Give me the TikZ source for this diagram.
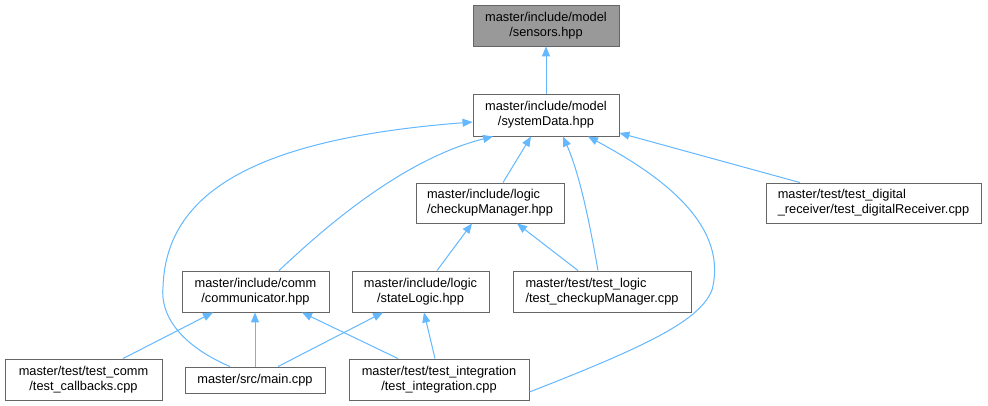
\documentclass[tikz,border=0pt]{standalone}
\usepackage{fontspec}
\setmainfont{Liberation Sans}
\usetikzlibrary{arrows.meta}
\definecolor{edgeblue}{HTML}{63B8FF}
\definecolor{boxgray}{HTML}{666666}
\definecolor{curfill}{HTML}{999999}
\begin{document}
\begin{tikzpicture}[x=1pt,y=-1pt,
  box/.style={draw=boxgray, line width=0.9pt, fill=white, inner sep=0pt, align=center,
    font=\fontsize{12.8}{15}\selectfont},
  lbox/.style={box, align=left},
  edge/.style={draw=edgeblue, line width=1pt, -{Triangle[length=10pt,width=8pt]}}]
\path[fill=white] (0,0) rectangle (988,406);
\useasboundingbox (0,0) rectangle (988,406);

\node[box, fill=curfill, minimum width=146pt, minimum height=41pt] (sensors) at (546,25.5) {master/include/model\\/sensors.hpp};
\node[box, minimum width=146pt, minimum height=42pt] (sys) at (546,115) {master/include/model\\/systemData.hpp};
\node[lbox, minimum width=148pt, minimum height=40pt] (chk) at (490,203) {master/include/logic\\/checkupManager.hpp};
\node[lbox, minimum width=215pt, minimum height=40pt] (dig) at (873.5,203) {master/test/test\_digital\\\_receiver/test\_digitalReceiver.cpp};
\node[box, minimum width=147pt, minimum height=41pt] (comm) at (255.5,291.5) {master/include/comm\\/communicator.hpp};
\node[box, minimum width=137pt, minimum height=41pt] (state) at (420.5,291.5) {master/include/logic\\/stateLogic.hpp};
\node[lbox, minimum width=178pt, minimum height=41pt] (tchk) at (602,291.5) {master/test/test\_logic\\/test\_checkupManager.cpp};
\node[box, minimum width=157pt, minimum height=41pt] (cb) at (83.5,379.5) {master/test/test\_comm\\/test\_callbacks.cpp};
\node[box, minimum width=140pt, minimum height=26pt] (main) at (255,380) {master/src/main.cpp};
\node[box, minimum width=180pt, minimum height=41pt] (integ) at (439,379.5) {master/test/test\_integration\\/test\_integration.cpp};

% edges
\draw[edge] (sys.north) -- (sensors.south);
\draw[edge] ([xshift=-25pt]main.north) .. controls (180,345) and (160,315) .. (163,287) .. controls (166,200) and (240,140) .. ([yshift=-7pt]sys.west);
\draw[edge] ([xshift=23.5pt]comm.north) .. controls (320,232) and (400,160) .. ([xshift=-53pt]sys.south);
\draw[edge] ([xshift=13pt]chk.north) -- ([xshift=-15pt]sys.south);
\draw[edge] ([xshift=-4pt]tchk.north) .. controls (590,225) and (580,175) .. ([xshift=17pt]sys.south);
\draw[edge] ([yshift=-12.5pt]integ.east) .. controls (650,345) and (700,320) .. (712,290) .. controls (730,220) and (650,170) .. ([xshift=42pt]sys.south);
\draw[edge] ([xshift=-73.5pt]dig.north) -- ([yshift=-18pt]sys.east);
\draw[edge] ([xshift=16.5pt]state.north) -- ([xshift=-18pt]chk.south);
\draw[edge] ([xshift=-24pt]tchk.north) -- ([xshift=27pt]chk.south);
\draw[edge] ([xshift=39.5pt]cb.north) -- ([xshift=-42.5pt]comm.south);
\draw[edge] (main.north) -- (main.north |- comm.south);
\draw[edge] ([xshift=-41pt]integ.north) -- ([xshift=46.5pt]comm.south);
\draw[edge] ([xshift=23pt]main.north) -- ([xshift=-37.5pt]state.south);
\draw[edge] ([xshift=-4pt]integ.north) -- ([xshift=3.5pt]state.south);
\end{tikzpicture}
\end{document}
